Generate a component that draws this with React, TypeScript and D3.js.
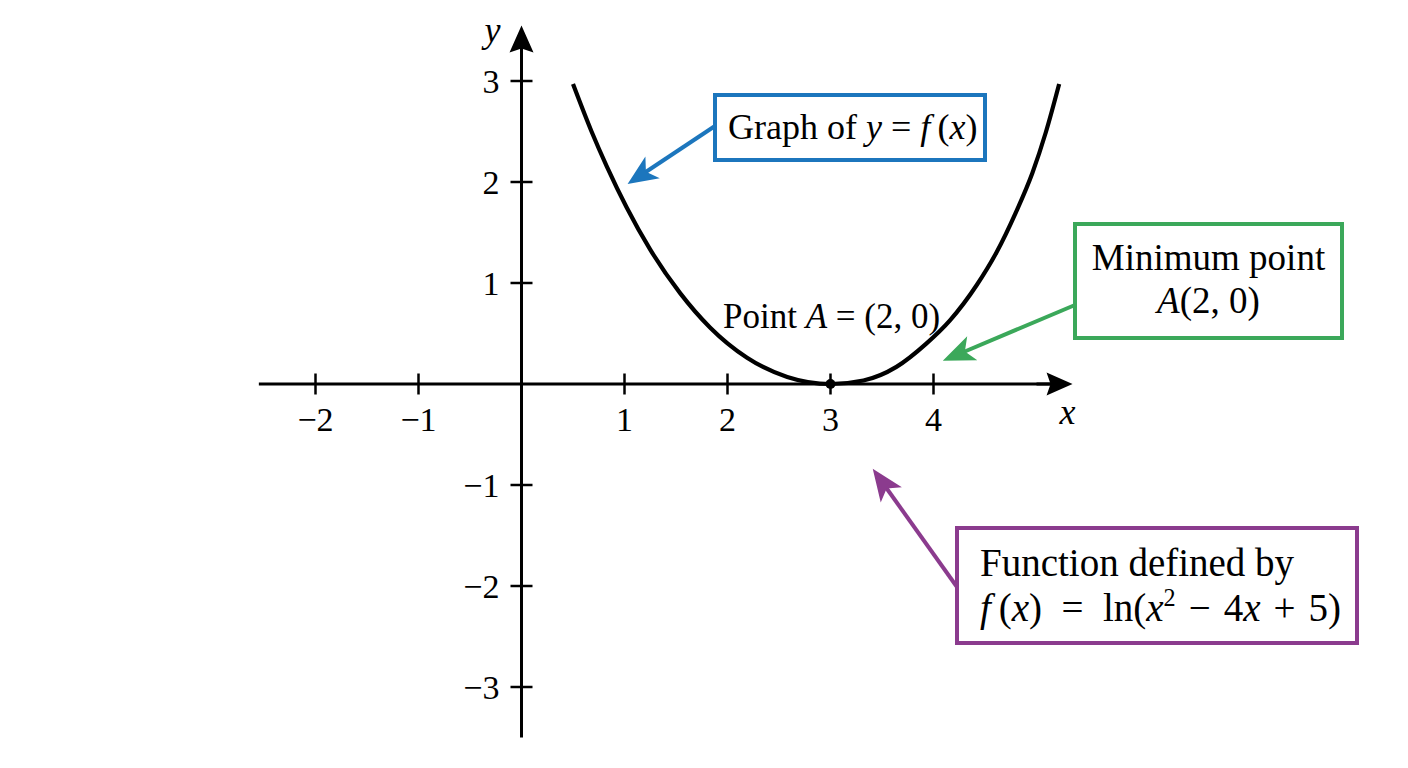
import React, { useRef, useEffect } from 'react';
import * as d3 from 'd3';

// points (x, y in axis units)
const curveX = [0.5, 0.68, 0.83, 1.02, 1.25, 1.54, 1.83, 2.19, 2.58, 3.0, 3.32, 3.64, 3.93, 4.16, 4.42, 4.61, 4.8, 4.96, 5.09, 5.22];
const curveY = [2.97, 2.5, 2.15, 1.75, 1.33, 0.9, 0.56, 0.26, 0.07, 0, 0.035, 0.17, 0.4, 0.63, 0.98, 1.3, 1.7, 2.09, 2.49, 2.97];

const xTicks = [-2, -1, 1, 2, 3, 4];
const xTickLabels = ['−2', '−1', '1', '2', '3', '4'];
const yTicks = [-3, -2, -1, 1, 2, 3];
const yTickLabels = ['−3', '−2', '−1', '1', '2', '3'];

const pointA = { x: 3, y: 0 };

const FONT = '"Liberation Serif", "Times New Roman", serif';
const BLUE = '#1c76bd';
const GREEN = '#3ba85a';
const PURPLE = '#8b3b8e';

type Seg = { t: string; i?: boolean; sup?: boolean };

function addText(g: any, x: number, y: number, size: number, segs: Seg[], anchor = 'start') {
    const t = g.append('text')
        .attr('x', x)
        .attr('y', y)
        .attr('font-family', FONT)
        .attr('font-size', size)
        .attr('fill', '#000')
        .attr('text-anchor', anchor)
        .attr('xml:space', 'preserve');
    let raised = false;
    segs.forEach(s => {
        const ts = t.append('tspan').text(s.t);
        if (s.i) ts.attr('font-style', 'italic');
        if (s.sup) {
            ts.attr('font-size', size * 0.62).attr('dy', -size * 0.38);
            raised = true;
        } else if (raised) {
            ts.attr('dy', size * 0.38);
            raised = false;
        }
    });
    return t;
}

function arrow(g: any, x1: number, y1: number, x2: number, y2: number, color: string,
    len: number, hw: number, notch: number, width: number) {
    const a = Math.atan2(y2 - y1, x2 - x1);
    const ux = Math.cos(a), uy = Math.sin(a);
    const px = -uy, py = ux;
    const bx = x2 - ux * len, by = y2 - uy * len;
    const nx = x2 - ux * (len - notch), ny = y2 - uy * (len - notch);
    g.append('line')
        .attr('x1', x1).attr('y1', y1)
        .attr('x2', nx + ux * 2).attr('y2', ny + uy * 2)
        .attr('stroke', color).attr('stroke-width', width);
    g.append('path')
        .attr('d', `M${x2},${y2}L${bx + px * hw},${by + py * hw}L${nx},${ny}L${bx - px * hw},${by - py * hw}Z`)
        .attr('fill', color);
}

export default function App() {
    const svgRef = useRef<SVGSVGElement | null>(null);

    useEffect(() => {
        if (!svgRef.current) return;
        const svg = d3.select(svgRef.current);
        svg.selectAll('*').remove();

        const x = d3.scaleLinear().domain([-2, 4]).range([315.5, 933.5]);
        const y = d3.scaleLinear().domain([-1, 1]).range([485, 283]);
        const g = svg.append('g');

        // axes
        const x0 = x(0), y0 = y(0);
        g.append('line')
            .attr('x1', x(-2.55)).attr('y1', y0).attr('x2', x(5.2)).attr('y2', y0)
            .attr('stroke', '#000').attr('stroke-width', 3);
        g.append('line')
            .attr('x1', x0).attr('y1', y(-3.5)).attr('x2', x0).attr('y2', y(3.4))
            .attr('stroke', '#000').attr('stroke-width', 3);
        arrow(g, x(5.0), y0, x(5.35), y0, '#000', 26, 11.5, 4, 3);
        arrow(g, x0, y(3.2), x0, y(3.55), '#000', 27, 12, 4, 3);

        g.selectAll('.xt').data(xTicks).join('line')
            .attr('x1', d => x(d)).attr('x2', d => x(d))
            .attr('y1', y0 - 10.5).attr('y2', y0 + 10.5)
            .attr('stroke', '#000').attr('stroke-width', 2.5);
        g.selectAll('.yt').data(yTicks).join('line')
            .attr('y1', d => y(d)).attr('y2', d => y(d))
            .attr('x1', x0 - 11).attr('x2', x0 + 11)
            .attr('stroke', '#000').attr('stroke-width', 2.5);

        xTicks.forEach((d, i) => {
            addText(g, x(d), y0 + 47, 34, [{ t: xTickLabels[i] }], 'middle');
        });
        yTicks.forEach((d, i) => {
            addText(g, x0 - 22, y(d) + 12, 34, [{ t: yTickLabels[i] }], 'end');
        });

        addText(g, x(5.35) - 5, y0 + 40, 36, [{ t: 'x', i: true }], 'middle');
        addText(g, x0 - 21, y(3.55) + 17, 36, [{ t: 'y', i: true }], 'end');

        // curve
        const pts = curveX.map((v, i) => [v, curveY[i]] as [number, number]);
        const line = d3.line<[number, number]>()
            .x(d => x(d[0]))
            .y(d => y(d[1]))
            .curve(d3.curveMonotoneX);
        g.append('path')
            .attr('d', line(pts))
            .attr('fill', 'none')
            .attr('stroke', '#000')
            .attr('stroke-width', 4.2)
            .attr('stroke-linecap', 'butt');

        g.append('circle')
            .attr('cx', x(pointA.x)).attr('cy', y(pointA.y)).attr('r', 5)
            .attr('fill', '#000');

        addText(g, 723, 328, 35, [{ t: 'Point ' }, { t: 'A', i: true }, { t: ' = (2, 0)' }]);

        // blue annotation
        g.append('rect').attr('x', 715).attr('y', 95).attr('width', 270).attr('height', 65)
            .attr('fill', 'none').attr('stroke', BLUE).attr('stroke-width', 4);
        addText(g, 728, 139, 36, [
            { t: 'Graph of ' }, { t: 'y', i: true }, { t: ' = ' }, { t: 'f', i: true }, { t: '\u2009(' }, { t: 'x', i: true }, { t: ')' },
        ]);
        arrow(g, 715, 126, x(1.03), y(1.98), BLUE, 30, 13, 8, 4);

        // green annotation
        g.append('rect').attr('x', 1075).attr('y', 224).attr('width', 267).attr('height', 114)
            .attr('fill', 'none').attr('stroke', GREEN).attr('stroke-width', 4);
        addText(g, 1208.5, 270, 37, [{ t: 'Minimum point' }], 'middle');
        addText(g, 1208.5, 313, 37, [{ t: 'A', i: true }, { t: '(2, 0)' }], 'middle');
        arrow(g, 1075, 305, x(4.09), y(0.23), GREEN, 32, 13, 8, 4);

        // purple annotation
        g.append('rect').attr('x', 957).attr('y', 528).attr('width', 400).attr('height', 115)
            .attr('fill', 'none').attr('stroke', PURPLE).attr('stroke-width', 4);
        addText(g, 980, 576, 39, [{ t: 'Function defined by' }]);
        addText(g, 980, 621, 39, [
            { t: 'f', i: true }, { t: '\u2009(' }, { t: 'x', i: true }, { t: ')\u2002=\u2002ln(' }, { t: 'x', i: true },
            { t: '2', sup: true }, { t: '\u2004−\u20044' }, { t: 'x', i: true }, { t: '\u2004+\u20045)' },
        ]);
        arrow(g, 957, 587, x(3.41), y(-0.84), PURPLE, 32, 13, 8, 4);
    }, []);

    return (
        <div style={{ position: 'absolute', left: 0, top: 0, width: 1408, height: 768, background: '#fff' }}>
            <svg ref={svgRef} width={1408} height={768}></svg>
        </div>
    );
}
